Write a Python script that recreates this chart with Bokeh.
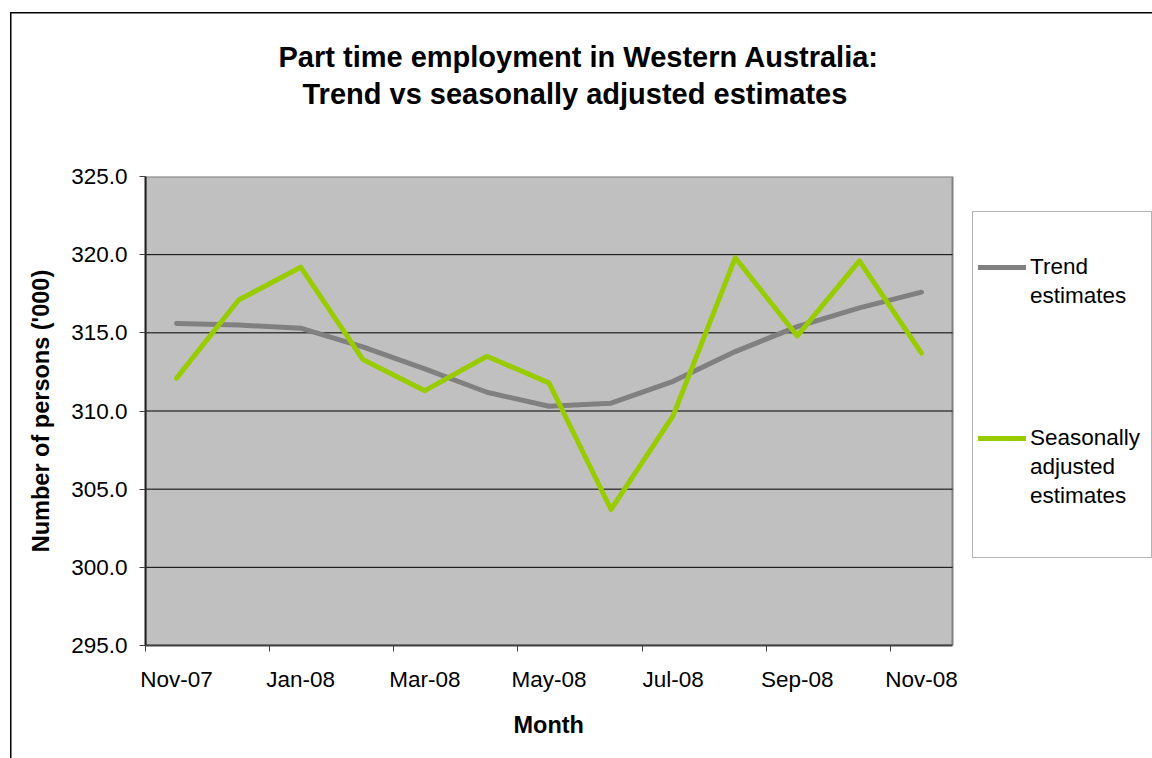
from bokeh.plotting import figure
from bokeh.models import (Range1d, FixedTicker, Legend, LegendItem, Title,
                          BoxAnnotation, PrintfTickFormatter)
from bokeh.embed import file_html
from bokeh.resources import INLINE

# ---- data ----
months = ["Nov-07", "Dec-07", "Jan-08", "Feb-08", "Mar-08", "Apr-08", "May-08",
          "Jun-08", "Jul-08", "Aug-08", "Sep-08", "Oct-08", "Nov-08"]
trend = [315.6, 315.5, 315.3, 314.1, 312.7, 311.2, 310.3,
         310.5, 311.9, 313.8, 315.4, 316.6, 317.6]
seasonal = [312.1, 317.1, 319.2, 313.3, 311.3, 313.5, 311.8,
            303.7, 309.7, 319.8, 314.8, 319.6, 313.7]
y_ticks = [295.0, 300.0, 305.0, 310.0, 315.0, 320.0, 325.0]
series_names = ["Trend\nestimates", "Seasonally\nadjusted\nestimates"]
title_lines = ["Part time employment in Western Australia:",
               "Trend vs seasonally adjusted estimates"]
x_title = "Month"
y_title = "Number of persons ('000)"

FONT = "Liberation Sans"
n = len(months)
x = [i + 0.5 for i in range(n)]

W, H = 1152, 758
FL, FR, FT, FB = 145, 952, 176, 645   # plot-area edges on the page
x_end = n * (W - FL) / (FR - FL)      # frame runs to the right edge; legend lives there

p = figure(width=W, height=H, output_backend="svg", toolbar_location=None,
           x_range=Range1d(0, x_end), y_range=Range1d(y_ticks[0], y_ticks[-1]),
           min_border_left=FL, min_border_right=0, min_border_top=FT,
           min_border_bottom=H - FB, background_fill_color="white",
           border_fill_alpha=0)
p.title = None
p.outline_line_color = None
p.xgrid.visible = False
p.ygrid.visible = False

# outer chart border (left and top edges visible in the picture)
p.styles = {
    "background-image": "linear-gradient(#000, #000), linear-gradient(#000, #000)",
    "background-size": "1.5px 100%, 100% 1.5px",
    "background-position": "10px 12px, 10px 12px",
    "background-repeat": "no-repeat",
}

# titles, stacked outward from the frame
spacer = Title(text=" ", text_font_size="1px", standoff=63)
t2 = Title(text=title_lines[1], align="left", offset=157, text_font=FONT,
           text_font_size="29px", text_font_style="bold", text_color="black",
           standoff=2)
t1 = Title(text=title_lines[0], align="left", offset=133, text_font=FONT,
           text_font_size="29px", text_font_style="bold", text_color="black",
           standoff=4)
p.add_layout(spacer, "above")
p.add_layout(t2, "above")
p.add_layout(t1, "above")

# plot area, grid lines
p.quad(left=0, right=n, bottom=y_ticks[0], top=y_ticks[-1],
       fill_color="#C0C0C0", line_color="#808080", line_width=2)
inner = y_ticks[1:-1]
p.segment(x0=[0] * len(inner), x1=[n] * len(inner), y0=inner, y1=inner,
          line_color="black", line_width=1)

# x axis: labels at category centres, ticks at category boundaries
xa = p.xaxis[0]
xa.bounds = (0, n)
xa.ticker = FixedTicker(ticks=[x[i] for i in range(0, n, 2)],
                        minor_ticks=[float(i) for i in range(0, n, 2)])
xa.major_label_overrides = {x[i]: months[i] for i in range(0, n, 2)}
xa.major_tick_line_color = None
xa.major_tick_out = 5
xa.minor_tick_line_color = "#404040"
xa.minor_tick_out = 6
xa.minor_tick_in = 0
xa.axis_line_color = "#404040"
xa.axis_line_width = 2
xa.major_label_text_font = FONT
xa.major_label_text_font_size = "22.5px"
xa.major_label_text_color = "black"
xa.major_label_standoff = 15

# x-axis title, centred under the plot area (not under the whole frame)
month_title = Title(text=x_title, align="left", offset=368, vertical_align="top",
                    text_font=FONT, text_font_size="23.5px",
                    text_font_style="bold", text_color="black", standoff=34)
p.add_layout(month_title, "below")

ya = p.yaxis[0]
ya.ticker = FixedTicker(ticks=y_ticks)
ya.formatter = PrintfTickFormatter(format="%.1f")
ya.major_tick_out = 6
ya.major_tick_in = 0
ya.minor_tick_line_color = None
ya.major_tick_line_color = "#404040"
ya.axis_line_color = "#202020"
ya.axis_line_width = 2
ya.major_label_text_font = FONT
ya.major_label_text_font_size = "22.5px"
ya.major_label_text_color = "black"
ya.major_label_standoff = 12
ya.axis_label = y_title
ya.axis_label_text_font = FONT
ya.axis_label_text_font_size = "23.5px"
ya.axis_label_text_font_style = "bold"
ya.axis_label_text_color = "black"
ya.axis_label_standoff = 14

r1 = p.line(x, trend, line_color="#808080", line_width=5,
            line_join="round", line_cap="round")
r2 = p.line(x, seasonal, line_color="#99CC00", line_width=5,
            line_join="round", line_cap="round")
blank = p.line(x=[], y=[], line_alpha=0)   # text-only legend rows

# legend box
p.add_layout(BoxAnnotation(left=972 - FL, right=1151 - FL, bottom=FB - 557,
                           top=FB - 211, left_units="screen", right_units="screen",
                           bottom_units="screen", top_units="screen",
                           fill_color="white", fill_alpha=1,
                           line_color="black", line_width=1))


def make_legend(name, renderer, bottom):
    rows = name.split("\n")
    items = [LegendItem(label=rows[0], renderers=[renderer])]
    items += [LegendItem(label=r, renderers=[blank]) for r in rows[1:]]
    return Legend(items=items, location=(978 - FL, FB - bottom), margin=0,
                  padding=0, spacing=1, glyph_width=48, glyph_height=28,
                  label_height=28, label_standoff=4, label_text_font=FONT,
                  label_text_font_size="22.5px", label_text_color="black",
                  border_line_alpha=0, background_fill_alpha=0)


p.add_layout(make_legend(series_names[0], r1, 310))
p.add_layout(make_legend(series_names[1], r2, 510))

open("out.html", "w").write(file_html(p, INLINE))
